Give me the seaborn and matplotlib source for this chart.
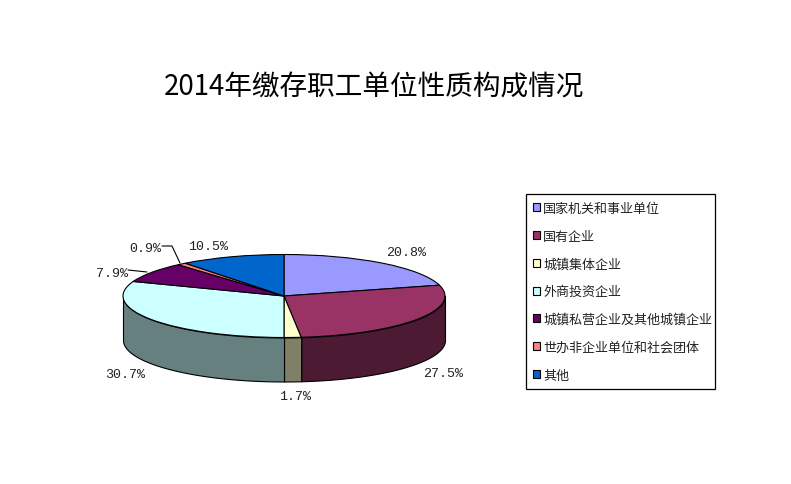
import matplotlib
matplotlib.use('Agg')
import matplotlib.pyplot as plt
from matplotlib.lines import Line2D
from matplotlib.patches import Patch, Rectangle
import numpy as np
import seaborn as sns

sns.set_style("white")
plt.rcParams['font.family'] = ['Noto Sans CJK SC', 'DejaVu Sans']

# ====================== DATA ======================
title = '2014年缴存职工单位性质构成情况'
categories = ['国家机关和事业单位', '国有企业', '城镇集体企业', '外商投资企业',
              '城镇私营企业及其他城镇企业', '世办非企业单位和社会团体', '其他']
shares = [20.8, 27.5, 1.7, 30.7, 7.9, 0.9, 10.5]
colors = ['#9999FF', '#993366', '#FFFFCC', '#CCFFFF', '#660066', '#FF8080', '#0066CC']

W, H = 791, 485
CX, CY, RX, RY, DEPTH = 284, 297, 161, 41.5, 44


def fx(x):
    return x / W


def fy(y):
    return 1 - y / H


# ====================== PLOT ======================
fig = plt.figure(figsize=(W / 100, H / 100), dpi=100)
ax = fig.add_axes([fx(CX - RX), fy(CY + RY), 2 * RX / W, 2 * RY / H])

palette = sns.color_palette(colors)
wedges, _ = ax.pie(shares, colors=palette, startangle=90, counterclock=False,
                   wedgeprops={'edgecolor': 'black', 'linewidth': 0.8, 'clip_on': False})
ax.set_aspect('auto')
ax.set_xlim(-1, 1)
ax.set_ylim(-1, 1)

# side wall of the cake, only the front half shows
ends = np.cumsum(shares) / 100 * 360
starts = ends - np.array(shares) / 100 * 360
for a0, a1, c in zip(starts, ends, palette):
    lo, hi = max(a0, 90), min(a1, 270)
    if lo >= hi:
        continue
    t = np.radians(np.linspace(lo, hi, 80))
    xs, ys = np.sin(t), np.cos(t)
    dark = tuple(v * 0.5 for v in c)
    if c == palette[3]:
        dark = '#668080'
    ax.fill_between(xs, ys, ys - 2 * DEPTH / (2 * RY), color=dark, edgecolor='black',
                    linewidth=0.8, clip_on=False, zorder=0)

fig.text(fx(374), fy(88), title, fontsize=19.9, color='black', ha='center', va='center')

# value labels
label_pos = [(406, 253), (443, 374), (295, 397), (125, 375), (112, 274), (145, 249), (208, 247)]
for v, (x, y) in zip(shares, label_pos):
    fig.text(fx(x), fy(y), f'{v:.1f}%', family='Liberation Mono', fontsize=9.6,
             color='#222222', ha='center', va='center')

# leader lines for the two small slices
fig.add_artist(Line2D([fx(128), fx(147)], [fy(271), fy(273)], color='black', lw=0.8))
fig.add_artist(Line2D([fx(162), fx(172), fx(180)], [fy(247), fy(247), fy(264)],
                      color='black', lw=0.8))

# legend box is drawn apart, its padding is not even on both sides
fig.add_artist(Rectangle((fx(526), fy(389.5)), 189 / W, 195 / H, transform=fig.transFigure,
                         facecolor='white', edgecolor='black', linewidth=0.9))
handles = [Patch(facecolor=c, edgecolor='black', linewidth=0.8) for c in palette]
leg = fig.legend(handles, categories, loc='upper left', bbox_to_anchor=(fx(533), fy(203)),
                 bbox_transform=fig.transFigure, fontsize=9.4, frameon=False,
                 borderaxespad=0, borderpad=0, handlelength=0.54, handleheight=0.54,
                 handletextpad=0.23, labelspacing=1.13)
for t in leg.get_texts():
    t.set_color('#222222')

fig.savefig('out.png', dpi=100)
